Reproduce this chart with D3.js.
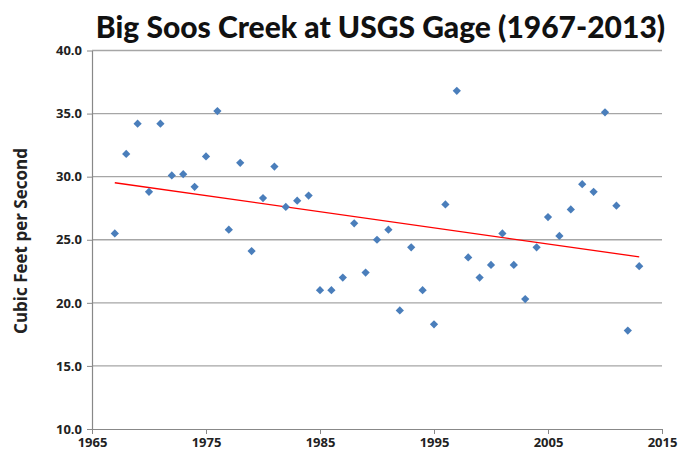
<!DOCTYPE html>
<html><head><meta charset="utf-8">
<script src="https://cdn.jsdelivr.net/npm/d3@7"></script>
<style>body{margin:0;background:#fff}svg{display:block}</style>
</head><body>
<svg id="c" width="689" height="456"></svg>
<script>
const years = [1967,1968,1969,1970,1971,1972,1973,1974,1975,1976,1977,1978,1979,1980,1981,1982,1983,1984,1985,1986,1987,1988,1989,1990,1991,1992,1993,1994,1995,1996,1997,1998,1999,2000,2001,2002,2003,2004,2005,2006,2007,2008,2009,2010,2011,2012,2013];
const flows = [25.5,31.8,34.2,28.8,34.2,30.1,30.2,29.2,31.6,35.2,25.8,31.1,24.1,28.3,30.8,27.6,28.1,28.5,21.0,21.0,22.0,26.3,22.4,25.0,25.8,19.4,24.4,21.0,18.3,27.8,36.8,23.6,22.0,23.0,25.5,23.0,20.3,24.4,26.8,25.3,27.4,29.4,28.8,35.1,27.7,17.8,22.9];
const xTicks = [1965,1975,1985,1995,2005,2015];
const yTicks = [10,15,20,25,30,35,40];
const title = "Big Soos Creek at USGS Gage (1967-2013)";
const yTitle = "Cubic Feet per Second";

const svg = d3.select("#c");
const x = d3.scaleLinear().domain([1965,2015]).range([92,662]);
const y = d3.scaleLinear().domain([10,40]).range([429,50.5]);

// gridlines
svg.append("g").selectAll("line").data(yTicks.filter(d=>d>10)).join("line")
  .attr("x1",x(1965)).attr("x2",x(2015)).attr("y1",d=>y(d)).attr("y2",d=>y(d))
  .attr("stroke","#a6a6a6").attr("stroke-width",1.3);

// y axis
const ya = svg.append("g").attr("transform",`translate(${x(1965)},0)`)
  .call(d3.axisLeft(y).tickValues(yTicks).tickFormat(d3.format(".1f")).tickSize(5).tickSizeOuter(0));
// x axis
const xa = svg.append("g").attr("transform",`translate(0,${y(10)})`)
  .call(d3.axisBottom(x).tickValues(xTicks).tickFormat(d3.format("d")).tickSize(5).tickSizeOuter(0));
[ya,xa].forEach(a=>{
  a.select(".domain").attr("stroke","#888").attr("stroke-width",1.2);
  a.selectAll(".tick line").attr("stroke","#888");
  a.selectAll("text").attr("fill","#222").attr("font-family","'Open Sans', sans-serif").attr("font-weight","bold").attr("font-size",13);
});
ya.selectAll("text").attr("x",-10);
xa.selectAll("text").attr("y",9);

// regression
const n = years.length, mx = d3.mean(years), my = d3.mean(flows);
const slope = d3.sum(years,(v,i)=>(v-mx)*(flows[i]-my))/d3.sum(years,v=>(v-mx)**2);
const icpt = my - slope*mx;
const trendYears = [years[0], years[n-1]];
svg.append("line")
  .attr("x1",x(trendYears[0])).attr("y1",y(icpt+slope*trendYears[0]))
  .attr("x2",x(trendYears[1])).attr("y2",y(icpt+slope*trendYears[1]))
  .attr("stroke","#ff0000").attr("stroke-width",1.3);

// points
const sym = d3.symbol().type(d3.symbolSquare).size(34);
svg.append("g").selectAll("path").data(years).join("path")
  .attr("d",sym())
  .attr("transform",(d,i)=>`translate(${x(d)},${y(flows[i])}) rotate(45)`)
  .attr("fill","#4a7ebb");

svg.append("text").attr("x",380.5).attr("y",38).attr("text-anchor","middle")
  .attr("font-family","Lato, sans-serif").attr("font-weight","900").attr("font-size",30)
  .attr("fill","#111").text(title);

svg.append("text").attr("transform","translate(27,241) rotate(-90)").attr("text-anchor","middle")
  .attr("font-family","'Open Sans', sans-serif").attr("font-weight","bold").attr("font-size",17)
  .attr("fill","#222").text(yTitle);
</script>
</body></html>
